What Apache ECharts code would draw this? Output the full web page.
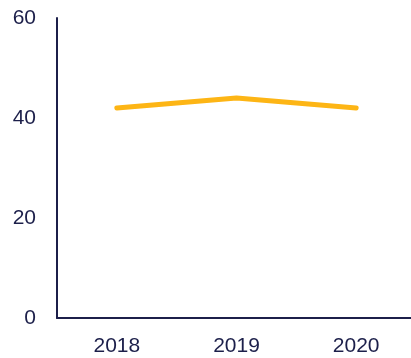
<!DOCTYPE html>
<html>
<head>
<meta charset="utf-8">
<script src="https://cdn.jsdelivr.net/npm/echarts@6/dist/echarts.min.js"></script>
<style>
  html, body { margin: 0; padding: 0; background: #ffffff; overflow: hidden; }
  #chart { width: 420px; height: 358px; }
</style>
</head>
<body>
<div id="chart"></div>
<script>
// Yearly values plotted as a single line
const years = ['2018', '2019', '2020'];
const values = [42, 44, 42];
const yTicks = [0, 20, 40, 60];

const textColor = '#1c1f4a';
const labelFont = 'Liberation Sans';
const chart = echarts.init(document.getElementById('chart'), null, { renderer: 'canvas' });

chart.setOption({
  animation: false,
  grid: { left: 57, right: 4, top: 18, bottom: 40, containLabel: false },
  xAxis: {
    type: 'category',
    data: years,
    boundaryGap: true,
    axisLine: { show: true, lineStyle: { color: textColor, width: 2 } },
    axisTick: { show: false },
    axisLabel: {
      color: textColor,
      fontFamily: labelFont,
      fontSize: 21,
      margin: 18
    },
    splitLine: { show: false }
  },
  yAxis: {
    type: 'value',
    min: yTicks[0],
    max: yTicks[yTicks.length - 1],
    interval: yTicks[1] - yTicks[0],
    axisLine: { show: true, lineStyle: { color: textColor, width: 2 } },
    axisTick: { show: false },
    axisLabel: {
      color: textColor,
      fontFamily: labelFont,
      fontSize: 21,
      margin: 21
    },
    splitLine: { show: false }
  },
  series: [{
    type: 'line',
    data: values,
    symbol: 'none',
    lineStyle: { color: '#fdb515', width: 5, cap: 'round', join: 'round' }
  }]
});
</script>
</body>
</html>
